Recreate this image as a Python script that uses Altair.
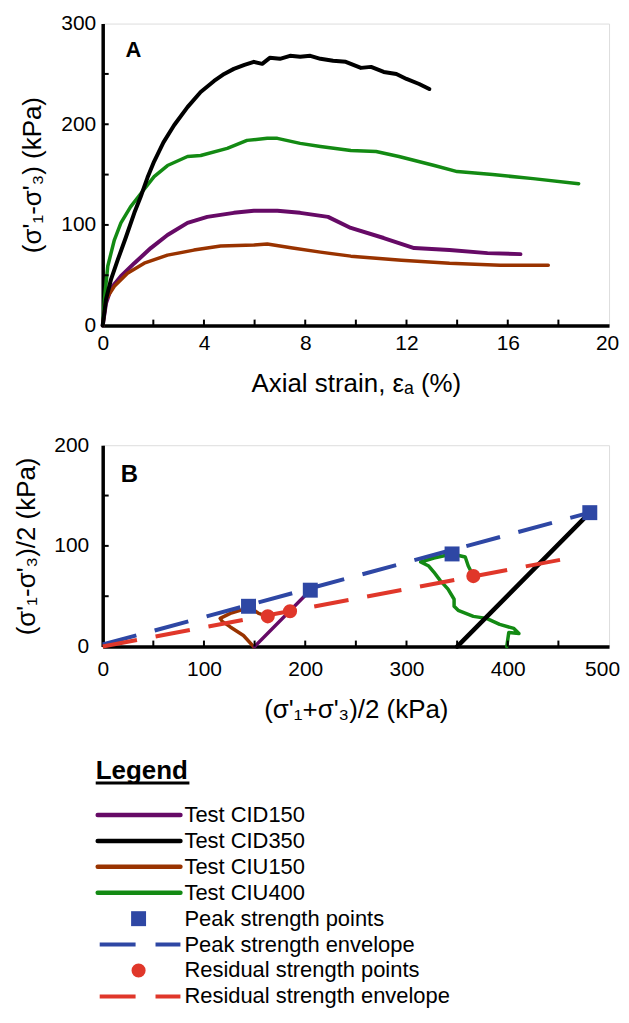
import altair as alt
import pandas as pd

# ---------------- Panel A : deviator stress vs axial strain ----------------
cid150_strain = [0, 0.13, 0.33, 0.72, 1.25, 1.9, 2.56, 3.35, 4.13, 5.18, 5.97, 6.9, 7.8, 8.9, 9.8, 11.1, 12.3, 13.7, 15.2, 16.5]
cid150_dev = [0, 22, 37, 49, 62, 77, 90, 102, 108, 112, 114, 114, 112, 108, 97, 87, 77, 75, 72, 71]

cid350_strain = [0, 0.13, 0.33, 0.59, 0.92, 1.25, 1.5, 1.77, 2.03, 2.4, 2.82, 3.35, 3.87, 4.4, 4.8, 5.18, 5.6, 5.97,
                 6.3, 6.6, 7.0, 7.4, 7.8, 8.2, 8.6, 9.1, 9.6, 10.2, 10.6, 11.1, 11.6, 12.0, 12.5, 12.9]
cid350_dev = [0, 26, 46, 65, 88, 112, 128, 147, 163, 182, 199, 217, 232, 243, 250, 255, 259, 262,
              260, 266, 265, 268, 267, 268, 265, 263, 262, 256, 257, 252, 250, 245, 240, 235]

ciu150_strain = [0, 0.13, 0.46, 0.98, 1.64, 2.56, 3.6, 4.66, 5.97, 6.5, 7.5, 8.6, 9.8, 11.8, 13.7, 15.7, 17.6]
ciu150_dev = [0, 26, 39, 52, 62, 70, 75, 79, 80, 81, 77, 73, 69, 65, 62, 60, 60]

ciu400_strain = [0, 0.07, 0.2, 0.46, 0.72, 1.1, 1.5, 2.03, 2.56, 3.35, 3.87, 4.92, 5.7, 6.5, 6.9, 7.8, 8.6,
                 9.8, 10.8, 11.7, 13.1, 14.0, 15.4, 17.0, 18.8]
ciu400_dev = [0, 26, 59, 85, 102, 118, 131, 148, 159, 168, 169, 176, 184, 186, 186, 181, 178,
              174, 173, 168, 159, 153, 150, 146, 141]

# ---------------- Panel B : stress paths (p', q) ----------------
cid150_p = [150, 205]
cid150_q = [0, 56]
cid350_p = [350, 481]
cid350_q = [0, 133]
ciu150_p = [149, 139, 126, 118, 116, 126, 139, 144, 154, 163]
ciu150_q = [0, 11, 19.5, 25, 28, 33, 37, 40, 33, 30]
ciu400_p = [399, 401, 411, 406, 392, 379, 366, 351, 347, 347, 341, 333, 327, 322, 314, 327, 345, 358, 361, 366]
ciu400_q = [0, 14, 13, 18, 22, 28, 30, 36, 40, 47, 57, 66, 74, 80, 84, 88, 92, 89, 80, 70]

peak_p = [144, 205, 345, 481]
peak_q = [40, 56, 92, 133]
peak_env_p = [0, 481]
peak_env_q = [2, 133]

resid_p = [163, 185, 366]
resid_q = [30, 35, 70]
resid_env_p = [0, 467]
resid_env_q = [0, 89]

# ---------------- Legend ----------------
legend_labels = ["Test CID150", "Test CID350", "Test CIU150", "Test CIU400",
                 "Peak strength points", "Peak strength envelope",
                 "Residual strength points", "Residual strength envelope"]

# ---------------- Style ----------------
FONT = "Liberation Sans"
PURPLE = "#660a66"
BLACK = "#000000"
BROWN = "#993300"
GREEN = "#138a13"
BLUE = "#2e47a4"
RED = "#e0372a"

WA, HA = 508, 303
WB, HB = 508, 202
HL = 244


def ax(values, title, **kw):
    return alt.Axis(values=values, title=title, ticks=False, tickSize=0, grid=False, labelFlush=False,
                    domainWidth=3.5, domainColor="black", labelFont=FONT, labelFontSize=21,
                    labelColor="black", titleFont=FONT, titleFontSize=26, titleFontWeight="normal",
                    titleColor="black", **kw)


def xA():
    return alt.X("x:Q", scale=alt.Scale(domain=[0, 20], nice=False, zero=False),
                 axis=ax([0, 4, 8, 12, 16, 20], "Axial strain, εₐ (%)", labelPadding=7,
                         labelOffset={"condition": {"test": "datum.value == 20", "value": -2}, "value": 0},
                         titleY=66, titleBaseline="alphabetic"))


def yA():
    return alt.Y("y:Q", scale=alt.Scale(domain=[0, 300], nice=False),
                 axis=ax([0, 100, 200, 300], "(σ'₁-σ'₃) (kPa)", labelPadding=7,
                         titleX=-70, titleY=HA / 2, titleAngle=270, titleBaseline="middle",
                         titleAlign="center"))


def xB():
    return alt.X("x:Q", scale=alt.Scale(domain=[0, 500], nice=False, zero=False),
                 axis=ax([0, 100, 200, 300, 400, 500], "(σ'₁+σ'₃)/2 (kPa)", labelPadding=12,
                         labelOffset={"condition": {"test": "datum.value == 500", "value": -7}, "value": 0},
                         titleY=71, titleBaseline="alphabetic"))


def yB():
    return alt.Y("y:Q", scale=alt.Scale(domain=[0, 200], nice=False),
                 axis=ax([0, 100, 200], "(σ'₁-σ'₃)/2 (kPa)", labelPadding=14,
                         titleX=-76, titleY=HB / 2, titleAngle=270, titleBaseline="middle",
                         titleAlign="center"))


def df_xy(xs, ys):
    return pd.DataFrame({"x": xs, "y": ys, "i": list(range(len(xs)))})


def path(xs, ys, color, width, xenc, yenc, dash=None):
    kw = dict(color=color, strokeWidth=width, strokeJoin="round")
    if dash is None:
        kw["strokeCap"] = "round"
    else:
        kw["strokeDash"] = dash
        kw["strokeCap"] = "butt"
    return alt.Chart(df_xy(xs, ys)).mark_line(**kw).encode(x=xenc(), y=yenc(), order="i:Q")


def inner_ticks(xvals, yvals, h, xenc, yenc):
    tx = alt.Chart(pd.DataFrame({"x": xvals})).mark_rule(color="black", strokeWidth=2).encode(
        x=xenc(), y=alt.value(h), y2=alt.value(h - 6))
    ty = alt.Chart(pd.DataFrame({"y": yvals})).mark_rule(color="black", strokeWidth=2).encode(
        y=yenc(), x=alt.value(0), x2=alt.value(6))
    return [tx, ty]


def panel_label(t, x, y, size):
    return alt.Chart(pd.DataFrame({"t": [t]})).mark_text(
        align="left", baseline="alphabetic", font=FONT, fontSize=size, fontWeight="bold", color="black"
    ).encode(text="t:N", x=alt.value(x), y=alt.value(y))


# ---- Panel A ----
chartA = alt.layer(
    path(ciu400_strain, ciu400_dev, GREEN, 3.5, xA, yA),
    path(cid150_strain, cid150_dev, PURPLE, 4, xA, yA),
    path(ciu150_strain, ciu150_dev, BROWN, 3.5, xA, yA),
    path(cid350_strain, cid350_dev, BLACK, 4, xA, yA),
    *inner_ticks([2, 4, 6, 8, 10, 12, 14, 16, 18], [50, 100, 150, 200, 250], HA, xA, yA),
    panel_label("A", 23, 34, 22),
).properties(width=WA, height=HA)

# ---- Panel B ----
peak_pts = alt.Chart(df_xy(peak_p, peak_q)).mark_point(
    shape="square", filled=True, size=225, color=BLUE, opacity=1).encode(x=xB(), y=yB())
resid_pts = alt.Chart(df_xy(resid_p, resid_q)).mark_point(
    shape="circle", filled=True, size=200, color=RED, opacity=1).encode(x=xB(), y=yB())

chartB = alt.layer(
    path(ciu150_p, ciu150_q, BROWN, 3.5, xB, yB),
    path(cid150_p, cid150_q, PURPLE, 3.5, xB, yB),
    path(ciu400_p, ciu400_q, GREEN, 3.5, xB, yB),
    path(cid350_p, cid350_q, BLACK, 4.5, xB, yB),
    path(peak_env_p, peak_env_q, BLUE, 4, xB, yB, dash=[35, 19]),
    path(resid_env_p, resid_env_q, RED, 4, xB, yB, dash=[35, 19]),
    peak_pts,
    resid_pts,
    *inner_ticks([50, 100, 150, 200, 250, 300, 350, 400, 450], [50, 100, 150], HB, xB, yB),
    panel_label("B", 18, 37, 24),
).properties(width=WB, height=HB)

# ---- Legend panel ----
leg_df = pd.DataFrame({"label": legend_labels, "row": list(range(len(legend_labels)))})
yL = alt.Y("row:Q", scale=alt.Scale(domain=[0, 7], range=[49, 231]), axis=None)
line_colors = alt.Scale(domain=legend_labels[:4], range=[PURPLE, BLACK, BROWN, GREEN])

leg_base = alt.Chart(leg_df)
leg_lines = leg_base.transform_filter("datum.row < 4").mark_rule(strokeWidth=4.5, strokeCap="round").encode(
    x=alt.value(-5), x2=alt.value(78), y=yL, color=alt.Color("label:N", scale=line_colors, legend=None))
leg_square = leg_base.transform_filter("datum.row == 4").mark_point(
    shape="square", filled=True, size=225, color=BLUE, opacity=1).encode(x=alt.value(36), y=yL)
leg_pdash = leg_base.transform_filter("datum.row == 5").mark_rule(
    strokeWidth=4, strokeDash=[36, 20], color=BLUE).encode(x=alt.value(-3), x2=alt.value(78), y=yL)
leg_circle = leg_base.transform_filter("datum.row == 6").mark_point(
    shape="circle", filled=True, size=200, color=RED, opacity=1).encode(x=alt.value(36), y=yL)
leg_rdash = leg_base.transform_filter("datum.row == 7").mark_rule(
    strokeWidth=4, strokeDash=[36, 20], color=RED).encode(x=alt.value(-3), x2=alt.value(78), y=yL)
leg_text = leg_base.mark_text(align="left", baseline="middle", font=FONT, fontSize=22,
                              color="black").encode(x=alt.value(82), y=yL, text="label:N")
leg_title = alt.Chart(pd.DataFrame({"t": ["Legend"]})).mark_text(
    align="left", baseline="alphabetic", font=FONT, fontSize=26, fontWeight="bold", color="black"
).encode(text="t:N", x=alt.value(-7), y=alt.value(13))
leg_underline = alt.Chart(pd.DataFrame({"t": ["Legend"]})).mark_rule(color="black", strokeWidth=3).encode(
    x=alt.value(-7), x2=alt.value(87), y=alt.value(17))

chartL = alt.layer(
    leg_lines, leg_square, leg_pdash, leg_circle, leg_rdash, leg_text, leg_title, leg_underline
).properties(width=WA, height=HL, view=alt.ViewBackground(stroke="transparent"))

chart = alt.vconcat(
    chartA, chartB, chartL, spacing=120, bounds="flush",
    padding={"left": 5, "top": 2, "right": 0, "bottom": 0},
).configure_view(stroke="black", strokeWidth=2.5).configure(font=FONT, background="white")

chart.save("out.html", embed_options={"renderer": "svg", "actions": False})
